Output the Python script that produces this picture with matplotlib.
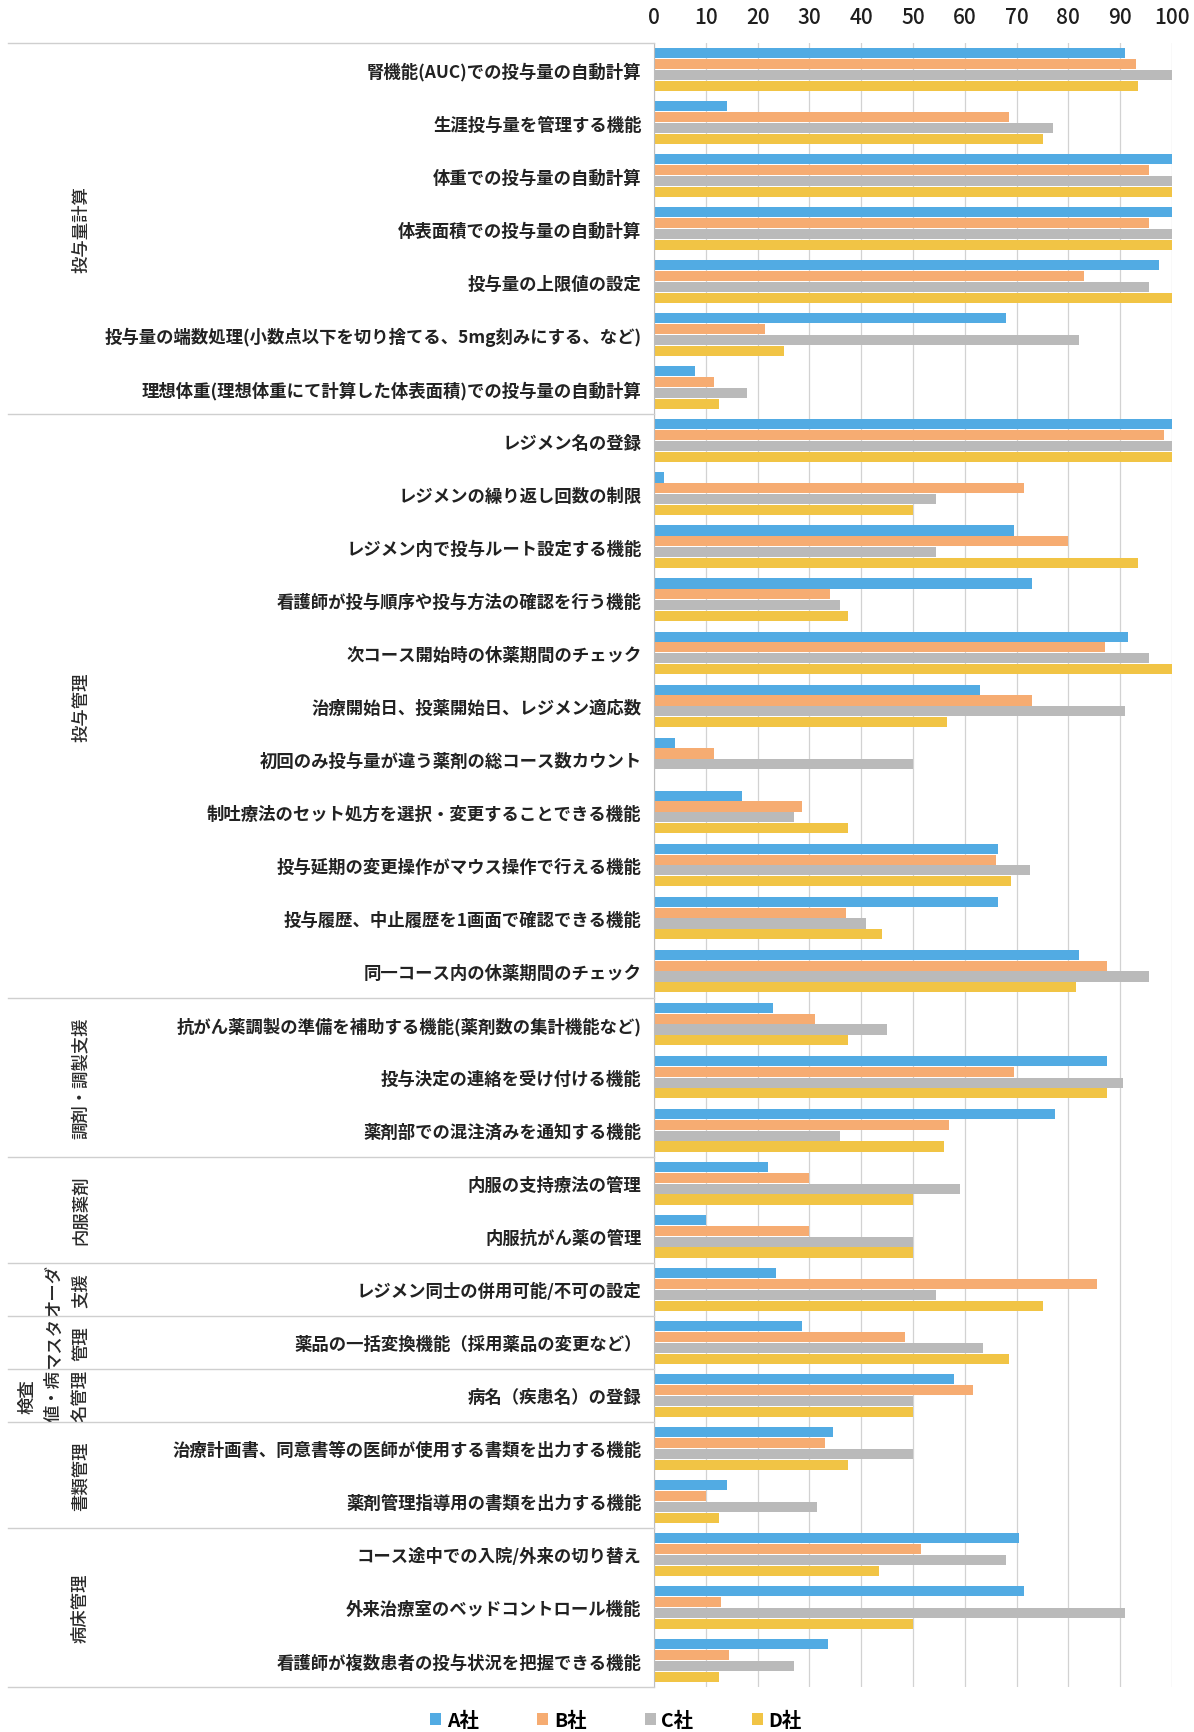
import matplotlib
matplotlib.use("Agg")
import matplotlib.pyplot as plt
import matplotlib.transforms as mtransforms
from matplotlib.lines import Line2D
from matplotlib.patches import Patch
import numpy as np

plt.rcParams['font.family'] = ['Noto Sans CJK JP', 'DejaVu Sans']

# 機能項目（上から順）
items = [
    "腎機能(AUC)での投与量の自動計算",
    "生涯投与量を管理する機能",
    "体重での投与量の自動計算",
    "体表面積での投与量の自動計算",
    "投与量の上限値の設定",
    "投与量の端数処理(小数点以下を切り捨てる、5mg刻みにする、など)",
    "理想体重(理想体重にて計算した体表面積)での投与量の自動計算",
    "レジメン名の登録",
    "レジメンの繰り返し回数の制限",
    "レジメン内で投与ルート設定する機能",
    "看護師が投与順序や投与方法の確認を行う機能",
    "次コース開始時の休薬期間のチェック",
    "治療開始日、投薬開始日、レジメン適応数",
    "初回のみ投与量が違う薬剤の総コース数カウント",
    "制吐療法のセット処方を選択・変更することできる機能",
    "投与延期の変更操作がマウス操作で行える機能",
    "投与履歴、中止履歴を1画面で確認できる機能",
    "同一コース内の休薬期間のチェック",
    "抗がん薬調製の準備を補助する機能(薬剤数の集計機能など)",
    "投与決定の連絡を受け付ける機能",
    "薬剤部での混注済みを通知する機能",
    "内服の支持療法の管理",
    "内服抗がん薬の管理",
    "レジメン同士の併用可能/不可の設定",
    "薬品の一括変換機能（採用薬品の変更など）",
    "病名（疾患名）の登録",
    "治療計画書、同意書等の医師が使用する書類を出力する機能",
    "薬剤管理指導用の書類を出力する機能",
    "コース途中での入院/外来の切り替え",
    "外来治療室のベッドコントロール機能",
    "看護師が複数患者の投与状況を把握できる機能",
]

# 区分名と範囲（先頭index, 末尾index）
groups = [
    ("投与量計算", 0, 6),
    ("投与管理", 7, 17),
    ("調剤・調製支援", 18, 20),
    ("内服薬剤", 21, 22),
    ("オーダ\n支援", 23, 23),
    ("マスタ\n管理", 24, 24),
    ("検査\n値・病\n名管理", 25, 25),
    ("書類管理", 26, 27),
    ("病床管理", 28, 30),
]

companies = ["A社", "B社", "C社", "D社"]
a_vals = [91, 14, 100, 100, 97.5, 68, 8, 100, 2, 69.5, 73, 91.5, 63, 4, 17, 66.5,
          66.5, 82, 23, 87.5, 77.5, 22, 10, 23.5, 28.5, 58, 34.5, 14, 70.5, 71.5, 33.5]
b_vals = [93, 68.5, 95.5, 95.5, 83, 21.5, 11.5, 98.5, 71.5, 80, 34, 87, 73, 11.5, 28.5, 66,
          37, 87.5, 31, 69.5, 57, 30, 30, 85.5, 48.5, 61.5, 33, 10, 51.5, 13, 14.5]
c_vals = [100, 77, 100, 100, 95.5, 82, 18, 100, 54.5, 54.5, 36, 95.5, 91, 50, 27, 72.5,
          41, 95.5, 45, 90.5, 36, 59, 50, 54.5, 63.5, 50, 50, 31.5, 68, 91, 27]
d_vals = [93.5, 75, 100, 100, 100, 25, 12.5, 100, 50, 93.5, 37.5, 100, 56.5, 0, 37.5, 69,
          44, 81.5, 37.5, 87.5, 56, 50, 50, 75, 68.5, 50, 37.5, 12.5, 43.5, 50, 12.5]
colors = ["#52ABE3", "#F6AC72", "#BABABA", "#F1C445"]

W, H = 1194, 1733
fig = plt.figure(figsize=(W / 100, H / 100), dpi=100)
ax_left, ax_right, ax_top, ax_bot = 654, 1172, 44, 1688
ax = fig.add_axes([ax_left / W, 1 - ax_bot / H, (ax_right - ax_left) / W, (ax_bot - ax_top) / H])

y = np.arange(len(items))
step, bh = 0.205, 0.19
for i, vals in enumerate([a_vals, b_vals, c_vals, d_vals]):
    ax.barh(y + (i - 1.5) * step, vals, height=bh, color=colors[i], zorder=2)

ax.set_xlim(0, 100)
ax.set_ylim(len(items) - 0.5, -0.5)
ax.set_xticks(np.arange(0, 101, 10))
ax.xaxis.tick_top()
ax.tick_params(axis='x', length=0, pad=11, labelsize=15, labelcolor='#1e1e1e')
for lab in ax.get_xticklabels():
    lab.set_fontweight('medium')
ax.set_yticks(y)
ax.set_yticklabels(items, fontsize=12.5, fontweight='bold', color='#222222')
ax.tick_params(axis='y', length=0, pad=9)
ax.grid(axis='x', color='#d2d2d2', lw=0.9, zorder=0)
for s in ['top', 'right', 'bottom']:
    ax.spines[s].set_visible(False)
ax.spines['left'].set_color('#bdbdbd')

# 左側の区切り線と区分名
trans = mtransforms.blended_transform_factory(fig.transFigure, ax.transData)
bounds = sorted({g[1] - 0.5 for g in groups} | {groups[-1][2] + 0.5})
for b in bounds:
    fig.add_artist(Line2D([8 / W, ax_left / W], [b, b], transform=trans,
                          color='#cfcfcf', lw=1.0))
col_x = 81
col_gap = 27
for label, first, last in groups:
    lines = label.split("\n")
    yc = (first + last) / 2
    for k, line in enumerate(lines):
        xp = col_x - (len(lines) - 1 - k) * col_gap
        ax.text(xp / W, yc, line, transform=trans, rotation=90, ha='center', va='center',
                fontsize=12.5, fontweight='medium', color='#2a2a2a')

handles = [Patch(facecolor=c, edgecolor='none') for c in colors]
fig.legend(handles, companies, loc='center', bbox_to_anchor=(0.516, 1 - 1721 / H),
           ncol=4, frameon=False, handlelength=0.55, handleheight=0.55, handletextpad=0.3,
           columnspacing=3.0, prop={'size': 14, 'weight': 'bold'})

fig.savefig("out.png", dpi=100, facecolor='white')
